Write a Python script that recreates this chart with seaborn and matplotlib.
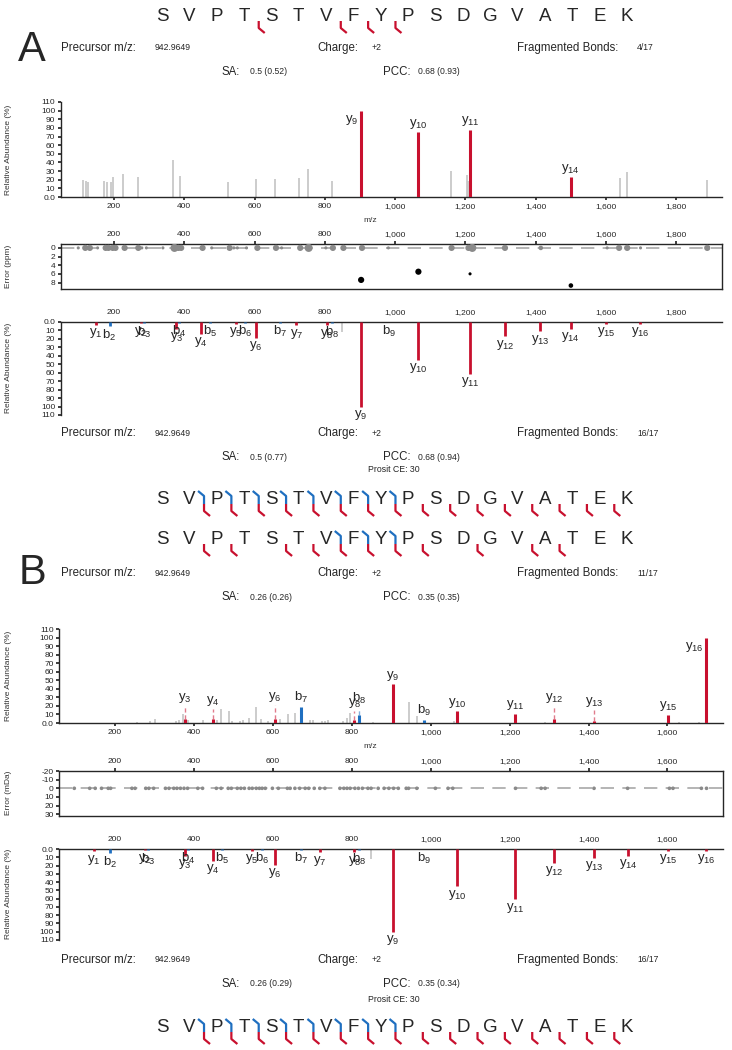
import matplotlib
matplotlib.use("Agg")
import matplotlib.pyplot as plt
import matplotlib.ticker as mticker
import pandas as pd
import seaborn as sns

W, H = 732, 1050

# ---------------- data ----------------
sequence = list("SVPTSTVFYPSDGVATEK")

# A: observed spectrum
a_gray_mz = [111, 121, 126, 170, 179, 190, 198, 226, 267, 367, 387, 525, 605, 659, 727, 752, 820, 905,
             1158, 1204, 1208, 1217, 1640, 1661, 1889]
a_gray_int = [20, 18, 17, 18, 17, 17, 23, 27, 23, 43, 24, 17, 21, 21, 22, 32, 19, 34,
              30, 25, 19, 35, 22, 29, 20]
a_ions = ["y9", "y10", "y11", "y14"]
a_ion_mz = [903.44, 1066.51, 1213.57, 1500.72]
a_ion_int = [100, 75, 78, 23]

# A: mass error (ppm)
a_err_mz = [98, 118, 131, 153, 176, 184, 196, 204, 230, 269, 279, 292, 339, 372, 383, 391, 452, 478,
            529, 541, 551, 577, 608, 661, 677, 730, 754, 803, 823, 853, 906, 981, 1161, 1209, 1220,
            1313, 1415, 1604, 1638, 1661, 1699, 1889,
            903.44, 1066.51, 1213.57, 1500.72]
a_err_ppm = [0] * 42 + [7.4, 5.5, 6.0, 8.7]
a_err_size = ["s", "L", "L", "s", "L", "L", "L", "L", "L", "L", "s", "s", "s", "XL", "L", "L", "L", "s",
              "L", "s", "s", "s", "L", "L", "s", "L", "XL", "s", "L", "L", "L", "s", "L", "L", "XL",
              "L", "M", "s", "L", "L", "s", "L",
              "L", "L", "s", "M"]
a_err_kind = ["other"] * 42 + ["matched"] * 4

# predicted (Prosit CE 30) spectrum, shared by A and B mirrors
pred_ions = ["y1", "b2", "y2", "b3", "y3", "b4", "y4", "b5", "y5", "b6", "y6", "b7", "y7", "y8", "b8",
             "y9", "b9", "y10", "y11", "y12", "y13", "y14", "y15", "y16"]
pred_mz = [147.11, 187.11, 276.16, 284.16, 377.20, 385.21, 448.24, 472.24, 547.31, 573.29, 604.33,
           672.36, 719.36, 806.39, 819.42, 903.44, 982.49, 1066.51, 1213.57, 1312.64, 1413.69,
           1500.72, 1601.77, 1698.82]
pred_int = [3, 5, 1.5, 1.5, 8, 1, 14, 1, 2, 1, 19, 1, 4, 4, 1.5, 100, 0.5, 45, 61, 17, 11, 8, 2, 2]
pred_gray_mz = [850]
pred_gray_int = [12]

# B: observed spectrum
b_gray_mz = [255, 289, 301, 355, 362, 372, 386, 424, 459, 470, 489, 497, 517, 525, 540, 557, 570, 589,
             617, 639, 656, 694, 703, 724, 732, 741, 779, 787, 795, 853, 944, 965, 1060, 1290, 1630, 1680]
b_gray_int = [1, 2, 5, 2, 3, 10, 3, 3, 3, 16, 14, 2, 2, 3, 6, 19, 5, 2,
              5, 10, 12, 4, 3, 2, 2, 3, 2, 6, 12, 1, 24, 8, 2, 1, 1, 1]
b_ions = ["y3", "y4", "y6", "b7", "y8", "b8", "y9", "b9", "y10", "y11", "y12", "y13", "y15", "y16"]
b_ion_mz = [377.20, 448.24, 604.33, 672.36, 806.39, 819.42, 903.44, 982.49, 1066.51, 1213.57,
            1312.64, 1413.69, 1601.77, 1698.82]
b_ion_int = [4.7, 4.7, 5, 19, 3, 9, 45.6, 4, 14, 11, 5, 2, 9.7, 100]
b_ion_dash = [19.5, 16, 21, 0, 14, 18, 0, 0, 0, 0, 19.5, 15, 0, 0]

# B: mass error (mDa)
b_err_mz = [97, 136, 150, 166, 183, 189, 243, 251, 278, 286, 298, 328, 337, 349, 357, 366, 375, 384,
            410, 422, 457, 469, 487, 495, 510, 519, 528, 540, 548, 558, 566, 573, 581, 599, 614, 637,
            644, 656, 668, 682, 691, 705, 719, 732, 770, 780, 788, 796, 808, 817, 827, 841, 849, 867,
            882, 894, 906, 918, 938, 944, 965, 1012, 1044, 1056, 1215, 1280, 1290, 1414, 1499, 1605,
            1614, 1686, 1699]
b_err_mda = [0] * len(b_err_mz)

headers = {
    "A_top": ("942.9649", "+2", "4/17", "0.5 (0.52)", "0.68 (0.93)"),
    "A_bot": ("942.9649", "+2", "16/17", "0.5 (0.77)", "0.68 (0.94)"),
    "B_top": ("942.9649", "+2", "11/17", "0.26 (0.26)", "0.35 (0.35)"),
    "B_bot": ("942.9649", "+2", "16/17", "0.26 (0.29)", "0.35 (0.34)"),
}

RED = "#c8102e"
BLUE = "#1f6fc0"
GRAY = "#c4c4c4"

# ---------------- style ----------------
sns.set_theme(style="ticks")
plt.rcParams["font.family"] = ["Liberation Sans Narrow", "Liberation Sans", "DejaVu Sans"]
plt.rcParams["mathtext.default"] = "regular"
plt.rcParams["axes.unicode_minus"] = False
plt.rcParams["axes.linewidth"] = 1.0
plt.rcParams["xtick.labelsize"] = 6
plt.rcParams["ytick.labelsize"] = 6
plt.rcParams["xtick.major.size"] = 2.5
plt.rcParams["ytick.major.size"] = 2.5
plt.rcParams["xtick.major.pad"] = 1.5
plt.rcParams["ytick.major.pad"] = 1.5

fig = plt.figure(figsize=(W / 100, H / 100), dpi=100)
ov = fig.add_axes([0, 0, 1, 1])
ov.set_xlim(0, W)
ov.set_ylim(H, 0)
ov.axis("off")
ov.patch.set_alpha(0)


def px_axes(x0, y0, x1, y1):
    return fig.add_axes([x0 / W, 1 - y1 / H, (x1 - x0) / W, (y1 - y0) / H])


def ion_text(name):
    return f"{name[0]}$_{{{name[1:]}}}$"


def ion_color(name):
    return RED if name[0] == "y" else BLUE


comma = mticker.StrMethodFormatter("{x:,.0f}")
abund_ticks = list(range(0, 111, 10))
abund_labels = ["0.0"] + [str(t) for t in abund_ticks[1:]]


def top_spectrum(ax, xlim, xticks, gmz, gint, ions, imz, iint, dash=None):
    ax.vlines(gmz, 0, gint, color=GRAY, lw=1.2)
    for k, (n, m, v) in enumerate(zip(ions, imz, iint)):
        c = ion_color(n)
        ax.vlines(m, 0, v, color=c, lw=2.2, zorder=3)
        tip = v
        if dash is not None and dash[k] > v:
            ax.vlines(m, v, dash[k], color=c, lw=1.0, alpha=0.55, linestyles=(0, (3, 2)))
            tip = dash[k]
        if tip > 95:
            ax.annotate(ion_text(n), (m, tip), xytext=(-2, -2), textcoords="offset points",
                        ha="right", va="top", fontsize=9.5, annotation_clip=False)
        else:
            ax.annotate(ion_text(n), (m, tip), xytext=(0, 1), textcoords="offset points",
                        ha="center", va="bottom", fontsize=9.5, annotation_clip=False)
    ax.set_xlim(*xlim)
    ax.set_ylim(0, 110)
    ax.set_xticks(xticks)
    ax.xaxis.set_major_formatter(comma)
    ax.set_yticks(abund_ticks)
    ax.set_yticklabels(abund_labels)
    ax.patch.set_alpha(0)
    sns.despine(ax=ax)


def mirror_spectrum(ax, xlim, xticks):
    ax.vlines(pred_gray_mz, 0, pred_gray_int, color=GRAY, lw=1.2)
    for n, m, v in zip(pred_ions, pred_mz, pred_int):
        ax.vlines(m, 0, v, color=ion_color(n), lw=2.0, zorder=3)
        ax.annotate(ion_text(n), (m, v), xytext=(0, -1), textcoords="offset points",
                    ha="center", va="top", fontsize=9.5, annotation_clip=False)
    ax.set_xlim(*xlim)
    ax.set_ylim(110, 0)
    ax.xaxis.tick_top()
    ax.set_xticks(xticks)
    ax.xaxis.set_major_formatter(comma)
    ax.set_yticks(abund_ticks)
    ax.set_yticklabels(abund_labels)
    ax.patch.set_alpha(0)
    sns.despine(ax=ax, top=False, bottom=True, right=True)


def error_panel(ax, xlim, xticks, df, ylim, yticks, sizes, palette):
    ax.axhline(0, color="#a8a8a8", lw=1.2, ls=(0, (8, 5)), zorder=1)
    sns.scatterplot(data=df, x="mz", y="err", size="size", sizes=sizes, hue="kind",
                    palette=palette, linewidth=0, legend=False, ax=ax, zorder=3)
    ax.set_xlim(*xlim)
    ax.set_ylim(*ylim)
    ax.xaxis.tick_top()
    ax.set_xticks(xticks)
    ax.xaxis.set_major_formatter(comma)
    ax.set_yticks(yticks)
    ax.set_xlabel("")
    ax.set_ylabel("")
    ax.patch.set_alpha(0)


def draw_sequence(base, ions):
    x0, step = 162, 27.35
    for i, aa in enumerate(sequence):
        ov.text(x0 + step * i, base, aa, ha="center", va="baseline", fontsize=13.5,
                family=["Liberation Sans", "DejaVu Sans"])
    for n in ions:
        num = int(n[1:])
        if n[0] == "b":
            bx = x0 + step * (num - 0.5)
            ov.plot([bx - 5, bx + 1, bx + 1], [base - 13, base - 8, base], color=BLUE, lw=1.6,
                    solid_capstyle="butt")
        else:
            bx = x0 + step * (len(sequence) - num - 0.5)
            ov.plot([bx + 1, bx + 1, bx + 7], [base, base + 7, base + 12], color=RED, lw=1.6,
                    solid_capstyle="butt")


def draw_header(y1, vals):
    prec, charge, frag, sa, pcc = vals
    big = dict(fontsize=8.3, va="center", ha="left")
    small = dict(fontsize=6.2, va="center", ha="left")
    ov.text(61, y1, "Precursor m/z:", **big)
    ov.text(155, y1, prec, **small)
    ov.text(317, y1, "Charge:", **big)
    ov.text(372, y1, charge, **small)
    ov.text(517, y1, "Fragmented Bonds:", **big)
    ov.text(637, y1, frag, **small)
    ov.text(222, y1 + 24, "SA:", **big)
    ov.text(250, y1 + 24, sa, **small)
    ov.text(383, y1 + 24, "PCC:", **big)
    ov.text(418, y1 + 24, pcc, **small)


lab = dict(fontsize=6, color="#333333", ha="center", va="center")

# ---------------- panel A ----------------
draw_sequence(21, a_ions)
ov.text(32, 50, "A", fontsize=30, ha="center", va="center", family=["Liberation Sans", "DejaVu Sans"])
draw_header(48, headers["A_top"])

xl_a = (48, 1931)
xt_a = list(range(200, 1801, 200))
ax = px_axes(60.7, 102, 722, 197)
top_spectrum(ax, xl_a, xt_a, a_gray_mz, a_gray_int, a_ions, a_ion_mz, a_ion_int)
ov.text(9, 150, "Relative Abundance (%)", rotation=90, **lab)
ov.text(370, 220, "m/z", **lab)

err_a = pd.DataFrame({"mz": a_err_mz, "err": a_err_ppm, "size": a_err_size, "kind": a_err_kind})
ax = px_axes(60.7, 244, 722, 289)
error_panel(ax, xl_a, xt_a, err_a, (9.5, -0.9), [0, 2, 4, 6, 8],
            {"s": 5, "M": 11, "L": 20, "XL": 34}, {"other": "#8a8a8a", "matched": "black"})
ov.text(9, 266, "Error (ppm)", rotation=90, **lab)

ax = px_axes(60.7, 322, 722, 415)
mirror_spectrum(ax, xl_a, xt_a)
ov.text(9, 368, "Relative Abundance (%)", rotation=90, **lab)

draw_header(433, headers["A_bot"])
ov.text(394, 470, "Prosit CE: 30", fontsize=6.3, ha="center", va="center")
draw_sequence(504, pred_ions)

# ---------------- panel B ----------------
draw_sequence(544, b_ions)
ov.text(32, 573, "B", fontsize=30, ha="center", va="center", family=["Liberation Sans", "DejaVu Sans"])
draw_header(573, headers["B_top"])

xl_b = (59, 1740)
xt_b = list(range(200, 1601, 200))
ax = px_axes(59.3, 629, 722.7, 723)
top_spectrum(ax, xl_b, xt_b, b_gray_mz, b_gray_int, b_ions, b_ion_mz, b_ion_int, b_ion_dash)
ov.text(9, 676, "Relative Abundance (%)", rotation=90, **lab)
ov.text(370, 747, "m/z", **lab)

err_b = pd.DataFrame({"mz": b_err_mz, "err": b_err_mda, "size": ["s"] * len(b_err_mz),
                      "kind": ["other"] * len(b_err_mz)})
ax = px_axes(59.3, 771, 722.7, 816)
error_panel(ax, xl_b, xt_b, err_b, (32, -20), [-20, -10, 0, 10, 20, 30],
            {"s": 7}, {"other": "#8a8a8a"})
ov.text(9, 793, "Error (mDa)", rotation=90, **lab)

ax = px_axes(59.3, 849, 722.7, 940)
mirror_spectrum(ax, xl_b, xt_b)
ov.text(9, 894, "Relative Abundance (%)", rotation=90, **lab)

draw_header(960, headers["B_bot"])
ov.text(394, 999, "Prosit CE: 30", fontsize=6.3, ha="center", va="center")
draw_sequence(1032, pred_ions)

fig.savefig("out.png", dpi=100)
